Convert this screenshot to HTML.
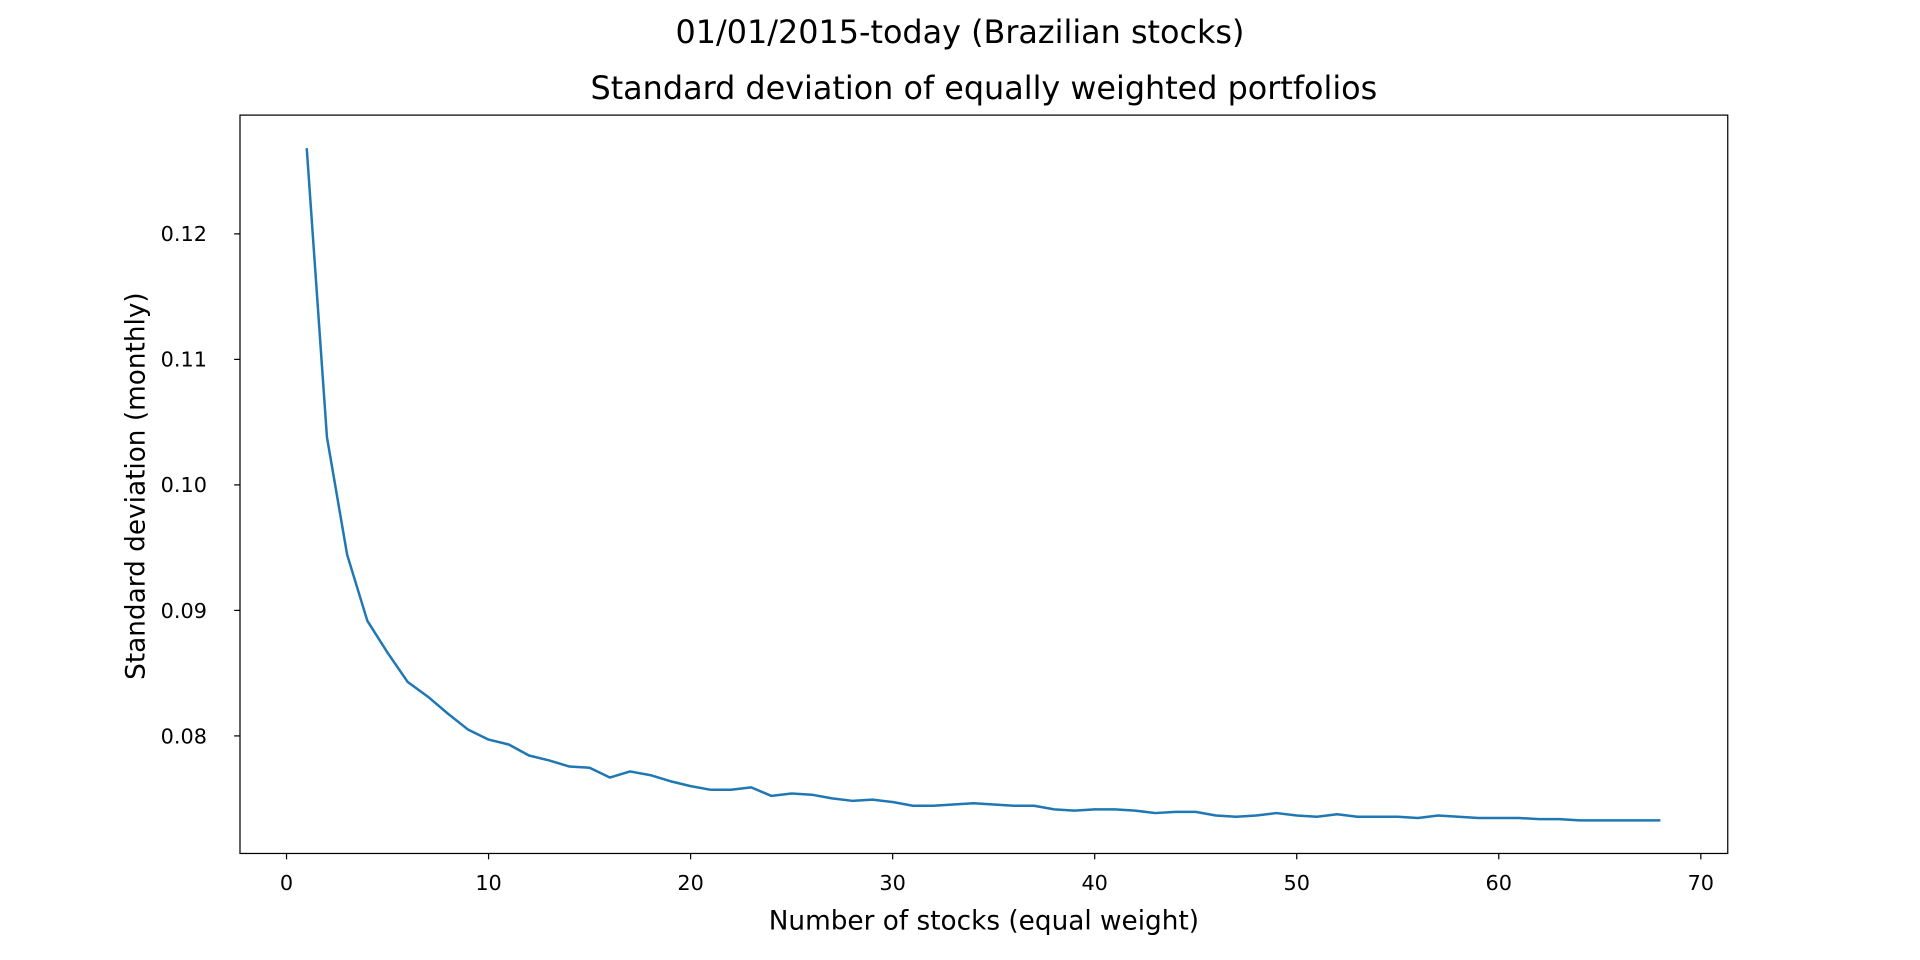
<!DOCTYPE html>
<html><head><style>html,body{margin:0;padding:0;background:#fff}svg{display:block}</style></head>
<body>
<svg width="1920" height="960" viewBox="0 0 1568 784" xmlns="http://www.w3.org/2000/svg" font-family="DejaVu Sans, Liberation Sans, sans-serif">
<rect width="1568" height="784" fill="#fff"/>
<text x="784" y="35" font-size="26" text-anchor="middle">01/01/2015-today (Brazilian stocks)</text>
<text x="803.5" y="81" font-size="26" text-anchor="middle">Standard deviation of equally weighted portfolios</text>
<polyline fill="none" stroke="#1f77b4" stroke-width="2.04" stroke-linejoin="round" points="
250.5,121 267,357 283.5,453 300,507 316.5,533 333,557 349.5,569 366,583 382.5,596 399,604 415.5,608 432,617 448.5,621 465,626 481.5,627 498,635 514.5,630 531,633 547.5,638 564,642 580.5,645 597,645 613.5,643 630,650 646.5,648 663,649 679.5,652 696,654 712.5,653 729,655 745.5,658 762,658 778.5,657 795,656 811.5,657 828,658 844.5,658 861,661 877.5,662 894,661 910.5,661 927,662 943.5,664 960,663 976.5,663 993,666 1009.5,667 1026,666 1042.5,664 1059,666 1075.5,667 1092,665 1108.5,667 1125,667 1141.5,667 1158,668 1174.5,666 1191,667 1207.5,668 1224,668 1240.5,668 1257,669 1273.5,669 1290,670 1306.5,670 1323,670 1339.5,670 1356,670"/>
<rect x="196" y="94" width="1215" height="603" fill="none" stroke="#000" stroke-width="1"/>
<g stroke="#000" stroke-width="1">
<line x1="234" y1="697" x2="234" y2="701.8"/><line x1="399" y1="697" x2="399" y2="701.8"/><line x1="564" y1="697" x2="564" y2="701.8"/><line x1="729" y1="697" x2="729" y2="701.8"/><line x1="894" y1="697" x2="894" y2="701.8"/><line x1="1059" y1="697" x2="1059" y2="701.8"/><line x1="1224" y1="697" x2="1224" y2="701.8"/><line x1="1389" y1="697" x2="1389" y2="701.8"/>
<line x1="191.2" y1="601" x2="196" y2="601"/><line x1="191.2" y1="498.5" x2="196" y2="498.5"/><line x1="191.2" y1="396" x2="196" y2="396"/><line x1="191.2" y1="293.5" x2="196" y2="293.5"/><line x1="191.2" y1="191" x2="196" y2="191"/>
</g>
<g font-size="17" text-anchor="middle">
<text x="234" y="727">0</text><text x="399" y="727">10</text><text x="564" y="727">20</text><text x="729" y="727">30</text><text x="894" y="727">40</text><text x="1059" y="727">50</text><text x="1224" y="727">60</text><text x="1389" y="727">70</text>
</g>
<g font-size="17" text-anchor="end">
<text x="169" y="607">0.08</text><text x="169" y="504.5">0.09</text><text x="169" y="402">0.10</text><text x="169" y="299.5">0.11</text><text x="169" y="197">0.12</text>
</g>
<text x="803.5" y="759" font-size="21.5" text-anchor="middle">Number of stocks (equal weight)</text>
<text transform="translate(118,397) rotate(-90)" font-size="21.5" text-anchor="middle">Standard deviation (monthly)</text>
</svg>
</body></html>
